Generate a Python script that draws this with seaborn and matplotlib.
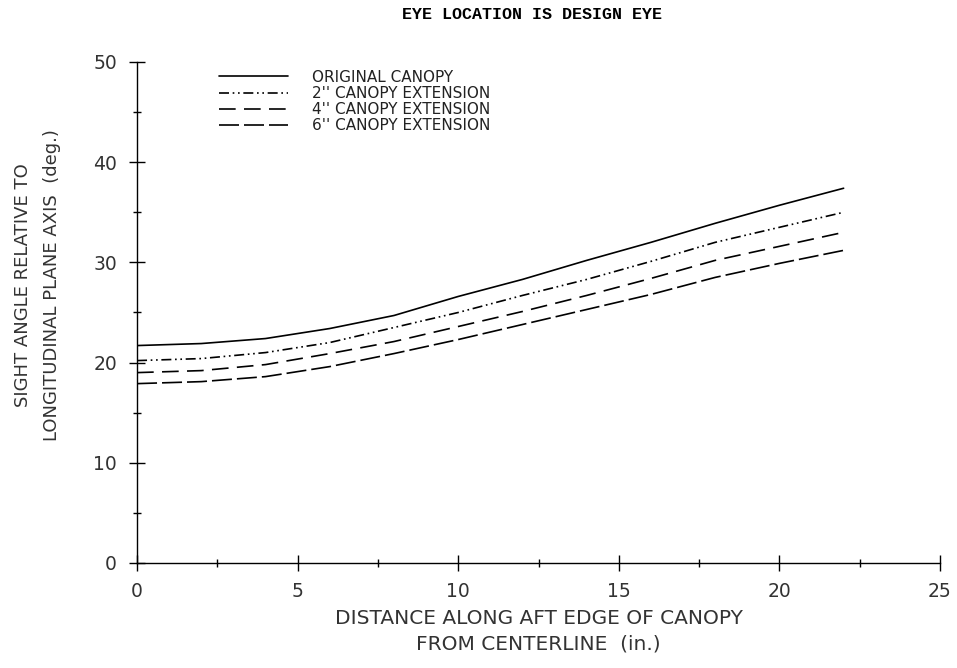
import matplotlib
matplotlib.use("Agg")
import matplotlib.pyplot as plt
import seaborn as sns
import pandas as pd
from matplotlib.ticker import MultipleLocator

distance = [0, 2, 4, 6, 8, 10, 12, 14, 16, 18, 20, 22]
original = [21.7, 21.9, 22.4, 23.4, 24.7, 26.6, 28.3, 30.2, 32.0, 33.9, 35.7, 37.4]
ext2 = [20.2, 20.4, 21.0, 22.0, 23.5, 25.0, 26.7, 28.3, 30.1, 32.0, 33.5, 35.0]
ext4 = [19.0, 19.2, 19.8, 20.9, 22.1, 23.6, 25.1, 26.7, 28.4, 30.2, 31.6, 33.0]
ext6 = [17.9, 18.1, 18.6, 19.6, 20.9, 22.3, 23.8, 25.3, 26.8, 28.5, 29.9, 31.2]
series_names = ["ORIGINAL CANOPY", "2'' CANOPY EXTENSION",
                "4'' CANOPY EXTENSION", "6'' CANOPY EXTENSION"]
x_ticks = [0, 5, 10, 15, 20, 25]
y_ticks = [0, 10, 20, 30, 40, 50]

rows = []
for name, vals in zip(series_names, [original, ext2, ext4, ext6]):
    for d, v in zip(distance, vals):
        rows.append({"distance": d, "angle": v, "series": name})
df = pd.DataFrame(rows)

sns.set_theme(style="white")
plt.rcParams['font.family'] = ['DejaVu Sans']

fig = plt.figure(figsize=(9.57, 6.68), dpi=100)
ax = fig.add_axes([0.1432, 0.1572, 0.839, 0.750])

dashes = {
    series_names[0]: "",
    series_names[1]: (6, 2.2, 1, 2.2, 1, 2.2),
    series_names[2]: (10, 5),
    series_names[3]: (12, 3),
}
sns.lineplot(data=df, x="distance", y="angle", hue="series", style="series",
             palette=["black"] * 4, dashes=dashes, linewidth=1.2, ax=ax,
             hue_order=series_names, style_order=series_names)

ax.set_xlim(0, 25)
ax.set_ylim(0, 50)
ax.set_xticks(x_ticks)
ax.set_yticks(y_ticks)
ax.xaxis.set_minor_locator(MultipleLocator(2.5))
ax.yaxis.set_minor_locator(MultipleLocator(5))
ax.tick_params(which="major", direction="inout", length=11, width=1.0,
               color="black", labelsize=13.5, labelcolor="#333333",
               bottom=True, left=True)
ax.tick_params(axis="y", which="major", pad=9)
ax.tick_params(axis="x", which="major", pad=8)
ax.tick_params(which="minor", direction="inout", length=6, width=1.0,
               color="black", bottom=True, left=True)
for s in ["top", "right"]:
    ax.spines[s].set_visible(False)
for s in ["left", "bottom"]:
    ax.spines[s].set_color("black")
    ax.spines[s].set_linewidth(1.0)

ax.set_xlabel("DISTANCE ALONG AFT EDGE OF CANOPY\nFROM CENTERLINE  (in.)",
              fontsize=14.5, color="#333333", linespacing=1.45, labelpad=6)
ax.set_ylabel("SIGHT ANGLE RELATIVE TO\nLONGITUDINAL PLANE AXIS  (deg.)",
              fontsize=13, color="#333333", linespacing=1.8)
ax.yaxis.set_label_coords(-0.095, 0.555)

leg = ax.legend(loc="upper left", bbox_to_anchor=(0.085, 1.012), frameon=False,
                fontsize=11, handlelength=4.5, handletextpad=1.6,
                labelspacing=0.08)
for t in leg.get_texts():
    t.set_color("#222222")

fig.text(0.556, 0.978, "EYE LOCATION IS DESIGN EYE", ha="center", va="center",
         fontsize=12, fontweight="bold", family="Liberation Mono", color="black")

fig.savefig("out.png", dpi=100)
